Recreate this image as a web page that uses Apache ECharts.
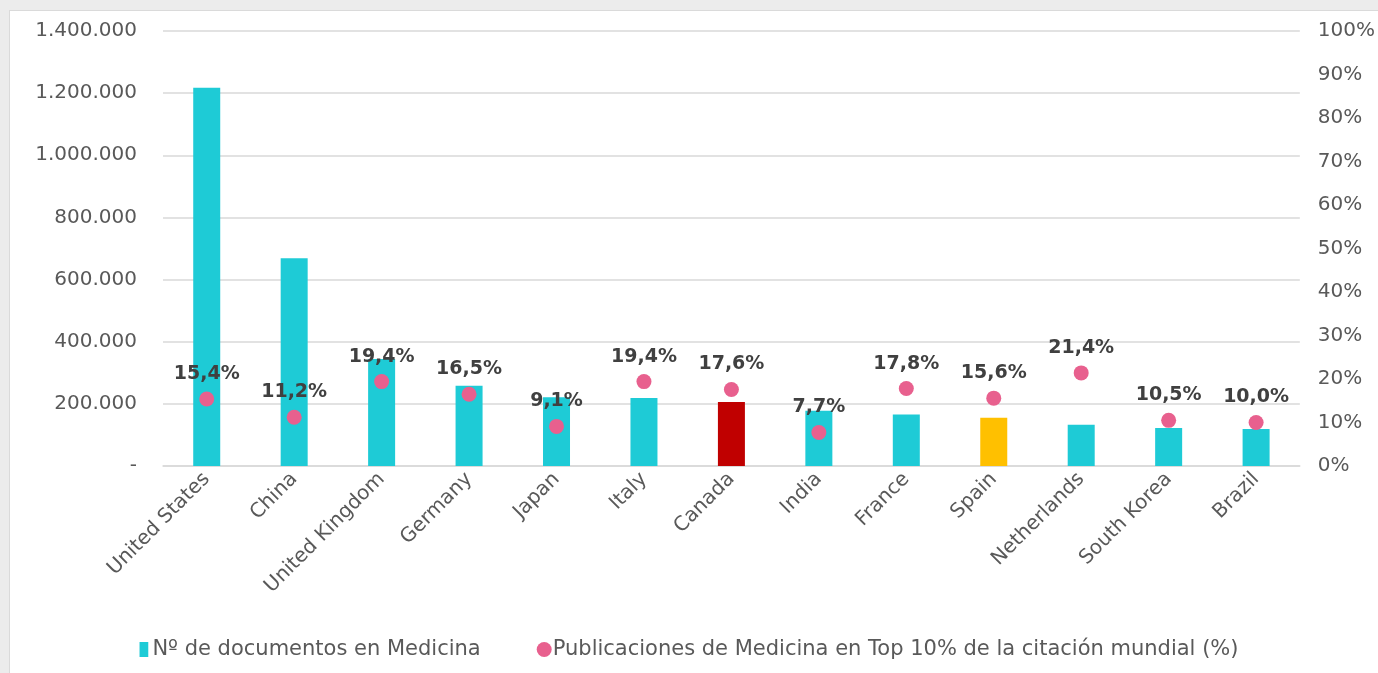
<!DOCTYPE html>
<html>
<head>
<meta charset="utf-8">
<script src="https://cdn.jsdelivr.net/npm/echarts@6/dist/echarts.min.js"></script>
<style>
  html, body { margin: 0; padding: 0; background: #ececec; }
  #frame { position: absolute; left: 9px; top: 10px; width: 1369px; height: 663px; background: #fff; border-left: 1px solid #dadada; border-top: 1px solid #dadada; box-sizing: border-box; }
  #main { position: absolute; left: 0; top: 0; width: 1378px; height: 673px; }
</style>
</head>
<body>
<div id="frame"></div>
<div id="main"></div>
<script>
var countries = ['United States', 'China', 'United Kingdom', 'Germany', 'Japan', 'Italy', 'Canada', 'India', 'France', 'Spain', 'Netherlands', 'South Korea', 'Brazil'];
var documents = [1217000, 669000, 344000, 258000, 221000, 219000, 206000, 178000, 166000, 155000, 133000, 122000, 119000];
var topTen = [15.4, 11.2, 19.4, 16.5, 9.1, 19.4, 17.6, 7.7, 17.8, 15.6, 21.4, 10.5, 10.0];
var highlight = { 'Canada': '#c00000', 'Spain': '#ffc000' };

var font = 'DejaVu Sans';
var grey = '#595959';

function thousands(v) {
    if (v === 0) return '-';
    return String(v).replace(/\B(?=(\d{3})+(?!\d))/g, '.');
}

var myChart = echarts.init(document.getElementById('main'));

var option = {
    textStyle: { fontFamily: font },
    grid: { left: 163, right: 78, top: 31, bottom: 207 },
    legend: {
        bottom: 8,
        itemGap: 56,
        itemWidth: 15,
        itemHeight: 15,
        textStyle: { fontSize: 21, color: grey, fontFamily: font, padding: [0, 0, 0, -4] },
        data: [
            { name: 'Nº de documentos en Medicina', icon: 'path://M0,0h7v12h-7z', itemStyle: { color: '#1ecbd6' } },
            { name: 'Publicaciones de Medicina en Top 10% de la citación mundial (%)', icon: 'circle' }
        ]
    },
    xAxis: {
        type: 'category',
        data: countries,
        axisTick: { show: false },
        axisLine: { lineStyle: { color: '#d9d9d9', width: 1.5 } },
        axisLabel: { rotate: 45, fontSize: 20, color: grey, margin: 10, interval: 0 }
    },
    yAxis: [{
        type: 'value',
        min: 0,
        max: 1400000,
        interval: 200000,
        axisLabel: { fontSize: 20, color: grey, margin: 26, formatter: thousands },
        splitLine: { lineStyle: { color: '#d9d9d9', width: 1.5 } }
    }, {
        type: 'value',
        min: 0,
        max: 100,
        interval: 10,
        axisLabel: { fontSize: 20, color: grey, margin: 18, formatter: '{value}%' },
        splitLine: { show: false }
    }],
    series: [{
        name: 'Nº de documentos en Medicina',
        type: 'bar',
        barWidth: 27,
        data: documents.map(function (v, i) {
            return { value: v, itemStyle: { color: highlight[countries[i]] || '#1ecbd6' } };
        }),
        itemStyle: { color: '#1ecbd6' }
    }, {
        name: 'Publicaciones de Medicina en Top 10% de la citación mundial (%)',
        type: 'scatter',
        yAxisIndex: 1,
        symbolSize: 15,
        data: topTen,
        itemStyle: { color: '#e8608e', opacity: 1 },
        label: {
            show: true,
            position: 'top',
            distance: 8,
            fontSize: 19,
            fontWeight: 'bold',
            color: '#404040',
            formatter: function (p) { return p.value.toFixed(1).replace('.', ',') + '%'; }
        }
    }]
};

myChart.setOption(option);
</script>
</body>
</html>
